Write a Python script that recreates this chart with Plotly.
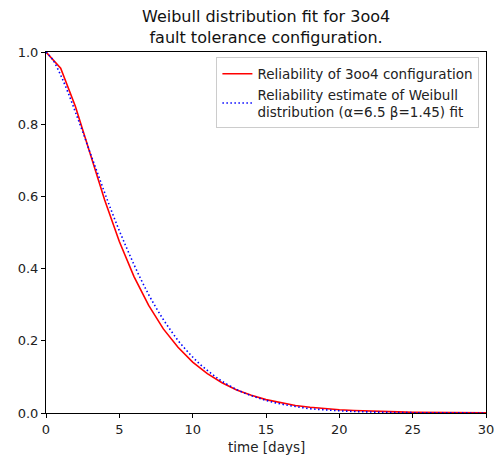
import plotly.graph_objects as go

# Reliability of 3oo4 configuration (read at integer days)
t_red = list(range(0, 31))
r_red = [1.0, 0.955, 0.85, 0.72, 0.59, 0.475, 0.378, 0.298, 0.233, 0.182, 0.141,
         0.109, 0.084, 0.064, 0.049, 0.037, 0.028, 0.021, 0.016, 0.012, 0.009,
         0.007, 0.005, 0.004, 0.003, 0.002, 0.0015, 0.001, 0.0008, 0.0006, 0.0004]

# Weibull fit estimate (read at half-day steps up to 12, then integer days)
t_blue = [0, 0.5, 1, 1.5, 2, 2.5, 3, 3.5, 4, 4.5, 5, 5.5, 6, 6.5, 7, 7.5, 8, 8.5, 9, 9.5,
          10, 10.5, 11, 11.5, 12, 13, 14, 15, 16, 17, 18, 19, 20, 21, 22, 23, 24, 25,
          26, 27, 28, 29, 30]
r_blue = [1.0, 0.976, 0.936, 0.888, 0.834, 0.779, 0.722, 0.666, 0.61, 0.556, 0.505,
          0.457, 0.411, 0.368, 0.328, 0.292, 0.259, 0.229, 0.201, 0.177, 0.155,
          0.135, 0.118, 0.102, 0.088, 0.065, 0.048, 0.035, 0.025, 0.018, 0.012,
          0.0088, 0.0061, 0.0042, 0.0029, 0.002, 0.0013, 0.0009, 0.0006, 0.0004,
          0.0003, 0.0002, 0.0001]

x_ticks = [0, 5, 10, 15, 20, 25, 30]
y_ticks = [0.0, 0.2, 0.4, 0.6, 0.8, 1.0]
y_tick_labels = ["0.0", "0.2", "0.4", "0.6", "0.8", "1.0"]

title_text = "Weibull distribution fit for 3oo4<br>fault tolerance configuration."
x_title = "time [days]"

fig = go.Figure()
fig.add_trace(go.Scatter(x=t_red, y=r_red, mode="lines",
                         line=dict(color="red", width=1.6),
                         name="Reliability of 3oo4 configuration"))
fig.add_trace(go.Scatter(x=t_blue, y=r_blue, mode="lines", line_shape="spline",
                         line=dict(color="blue", width=1.6, dash="1.5px,2.5px"),
                         name="Reliability estimate of Weibull<br>distribution (α=6.5 β=1.45) fit"))

axis_common = dict(showline=True, linecolor="black", linewidth=1, mirror=True,
                   ticks="outside", ticklen=4, tickcolor="black", showgrid=False,
                   zeroline=False, automargin=False, ticklabeloverflow="allow",
                   tickfont=dict(size=13, color="#222"))

fig.update_layout(
    width=494, height=455,
    margin=dict(l=46, r=8, t=52, b=42),
    paper_bgcolor="white", plot_bgcolor="white",
    font=dict(family="DejaVu Sans", color="#222"),
    xaxis=dict(range=[0, 30], tickvals=x_ticks, **axis_common),
    yaxis=dict(range=[0, 1], tickvals=y_ticks, ticktext=y_tick_labels, **axis_common),
    legend=dict(x=0.985, y=0.985, xanchor="right", yanchor="top",
                bgcolor="rgba(255,255,255,0.8)", bordercolor="#ccc", borderwidth=1,
                font=dict(size=13.5, color="#222"), tracegroupgap=2),
    showlegend=True,
    annotations=[
        dict(text=title_text, x=0.5, y=1, xref="paper", yref="paper",
             xanchor="center", yanchor="bottom", yshift=3, showarrow=False,
             font=dict(size=16, color="#111")),
        dict(text=x_title, x=0.5, y=0, xref="paper", yref="paper",
             xanchor="center", yanchor="top", yshift=-24, showarrow=False,
             font=dict(size=13.5, color="#222")),
    ],
)

fig.write_html("out.html", config={"displayModeBar": False},
               post_script="document.body.style.margin='0';document.body.style.overflow='hidden';")
